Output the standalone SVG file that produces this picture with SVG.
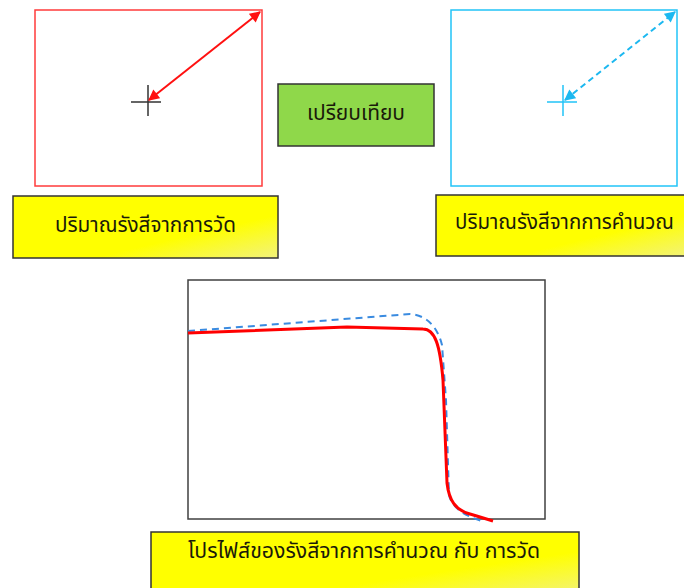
<svg xmlns="http://www.w3.org/2000/svg" width="684" height="588" viewBox="0 0 684 588">
<defs>
<style>
.lbl{font-family:"Noto Sans Thai","Tahoma","Noto Sans","DejaVu Sans",sans-serif;font-size:21px;fill:#1a1a0a;text-anchor:middle}
.ybox{fill:url(#yg);stroke:#333;stroke-width:1.5}
</style>
<linearGradient id="yg" x1="0" y1="0" x2="1" y2="1">
<stop offset="0" stop-color="#ffff00"/>
<stop offset="0.65" stop-color="#ffff00"/>
<stop offset="1" stop-color="#f2f27c"/>
</linearGradient>
<marker id="ar" viewBox="0 0 10 10" refX="9" refY="5" markerWidth="6" markerHeight="5.5" orient="auto-start-reverse" markerUnits="strokeWidth">
<path d="M0,0 L10,5 L0,10 z" fill="#ff1010"/>
</marker>
<marker id="ab" viewBox="0 0 10 10" refX="9" refY="5" markerWidth="6" markerHeight="5.5" orient="auto-start-reverse" markerUnits="strokeWidth">
<path d="M0,0 L10,5 L0,10 z" fill="#1cb8f0"/>
</marker>
</defs>
<rect width="684" height="588" fill="#fff"/>
<g id="measured">
<rect x="35" y="10" width="227" height="176" fill="#fff" stroke="#ff3b3b" stroke-width="1.5"/>
<path d="M131,102 H161 M148,85 V116" stroke="#333" stroke-width="1.5" fill="none"/>
</g>
<g id="calculated">
<rect x="451" y="10" width="226" height="176" fill="#fff" stroke="#22c4f8" stroke-width="1.5"/>
<path d="M547,102 H577 M563,85 V116" stroke="#22c4f8" stroke-width="1.5" fill="none"/>
</g>
<g id="compare">
<rect x="278" y="84" width="156" height="62" fill="#8fd84a" stroke="#333" stroke-width="1.5"/>
<text class="lbl" x="356" y="120" textLength="98" lengthAdjust="spacingAndGlyphs">เปรียบเทียบ</text>
</g>
<g id="label-measured">
<rect class="ybox" x="13" y="196" width="265" height="62"/>
<text class="lbl" x="145.5" y="232" textLength="181" lengthAdjust="spacingAndGlyphs">ปริมาณรังสีจากการวัด</text>
</g>
<g id="label-calculated">
<rect class="ybox" x="436" y="195" width="258" height="61"/>
<text class="lbl" x="564.5" y="229" textLength="219" lengthAdjust="spacingAndGlyphs">ปริมาณรังสีจากการคำนวณ</text>
</g>
<g id="chart">
<rect x="188" y="280" width="357" height="239" fill="none" stroke="#404040" stroke-width="1.5"/>
<path d="M188,331 L410,314 C425,315 437,325 442,345 L446,400 L449,495 C452,508 465,516 482,521" fill="none" stroke="#3a8be0" stroke-width="2" stroke-dasharray="7,5"/>
<path d="M188,333 L347,327 L423,329 C435,329 440,345 443,380 L447,483 C449,500 455,510 470,514 L480,517 L493,521" fill="none" stroke="#ff0000" stroke-width="3" stroke-linejoin="round"/>
</g>
<g id="label-profile">
<rect class="ybox" x="151" y="532" width="428" height="64"/>
<text class="lbl" x="364" y="558" textLength="352" lengthAdjust="spacingAndGlyphs">โปรไฟส์ของรังสีจากการคำนวณ กับ การวัด</text>
</g>
<g id="connectors">
<line x1="149" y1="100" x2="260" y2="12" stroke="#ff1010" stroke-width="2" marker-start="url(#ar)" marker-end="url(#ar)"/>
<line x1="565" y1="100" x2="675" y2="12" stroke="#1cb8f0" stroke-width="2" stroke-dasharray="6,4" marker-start="url(#ab)" marker-end="url(#ab)"/>
</g>
</svg>
